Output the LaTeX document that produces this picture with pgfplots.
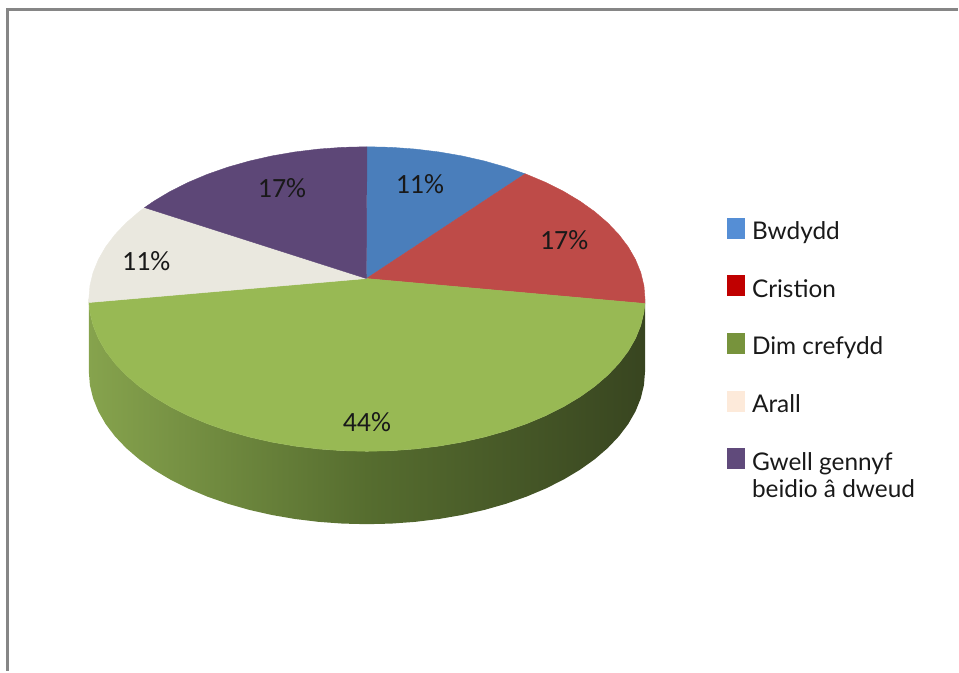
\documentclass[border=0pt]{standalone}
\usepackage{pgfplots}
\pgfplotsset{compat=1.18}
\usepackage{fontspec}
\setmainfont{Lato}
\newfontfamily\carlito{Carlito}
\definecolor{cBlue}{HTML}{4A7EBB}
\definecolor{cRed}{HTML}{BE4B48}
\definecolor{cGreen}{HTML}{98B954}
\definecolor{cBeige}{HTML}{EAE8DF}
\definecolor{cPurple}{HTML}{5D4777}
\definecolor{sideL}{HTML}{86A34D}
\definecolor{sideM}{HTML}{566D2F}
\definecolor{sideR}{HTML}{384520}
\definecolor{lBlue}{HTML}{558ED5}
\definecolor{lRed}{HTML}{C00000}
\definecolor{lGreen}{HTML}{77933C}
\definecolor{lBeige}{HTML}{FDEADA}
\definecolor{lPurple}{HTML}{604A7B}
\definecolor{frame}{HTML}{868686}
\newcommand\ls{\rule[-8.4bp]{0pt}{28bp}}
\begin{document}
\begin{tikzpicture}
\begin{axis}[
  scale only axis, width=959bp, height=672bp,
  xmin=0, xmax=959, ymin=0, ymax=672,
  hide axis, clip=false,
  legend cell align=left,
  legend image code/.code={\fill[#1, draw=none] (0bp,-8.3bp) rectangle (18bp,12.7bp); \path (25bp,0bp);},
  legend style={at={(axis cs:728,454)}, anchor=north west, draw=none, fill=none,
    inner sep=0pt, outer sep=0pt, row sep=34.5bp,
    font=\fontsize{24.5}{28}\selectfont, text=black!90,
    nodes={inner sep=0pt, outer sep=0pt}},
]
% page extent
\path[draw=none] (axis cs:0,0) rectangle (axis cs:959,672);
% frame
\draw[frame, line width=3bp] (axis cs:8,0) -- (axis cs:8,662) -- (axis cs:959,662);
% side wall
\addplot[draw=none, left color=sideL, right color=sideR, middle color=sideM, forget plot] coordinates {
(646,372.5) (644.94,359.20) (641.77,346.03) (636.50,333.03) (629.21,320.34) (619.90,308.05) (608.68,296.25) (595.65,285.03) (580.83,274.47) (564.43,264.67) (546.52,255.68) (527.25,247.57) (506.75,240.43) (485.19,234.29) (462.75,229.20) (439.58,225.20) (415.85,222.32) (391.79,220.58) (367.5,220) (343.21,220.58) (319.15,222.32) (295.42,225.20) (272.25,229.20) (249.81,234.29) (228.25,240.43) (207.75,247.57) (188.48,255.68) (170.57,264.67) (154.17,274.47) (139.35,285.03) (126.32,296.25) (115.10,308.05) (105.79,320.34) (98.50,333.03) (93.23,346.03) (90.06,359.20) (89,372.5)
(89,299.5) (90.06,286.20) (93.23,273.03) (98.50,260.03) (105.79,247.34) (115.10,235.05) (126.32,223.25) (139.35,212.03) (154.17,201.47) (170.57,191.67) (188.48,182.68) (207.75,174.57) (228.25,167.43) (249.81,161.29) (272.25,156.20) (295.42,152.20) (319.15,149.32) (343.21,147.58) (367.5,147) (391.79,147.58) (415.85,149.32) (439.58,152.20) (462.75,156.20) (485.19,161.29) (506.75,167.43) (527.25,174.57) (546.52,182.68) (564.43,191.67) (580.83,201.47) (595.65,212.03) (608.68,223.25) (619.90,235.05) (629.21,247.34) (636.50,260.03) (641.77,273.03) (644.94,286.20) (646,299.5)
} -- cycle;
% Bwdydd 11%
\addplot[fill=cBlue, draw=cBlue, line width=0.4bp, forget plot] coordinates {
(367,393) (367.5,525) (391.79,524.42) (415.85,522.68) (439.58,519.80) (462.75,515.80) (485.19,510.71) (506.75,504.57) (526.0,497.9)
} -- cycle;
% Cristion 17%
\addplot[fill=cRed, draw=cRed, line width=0.4bp, forget plot] coordinates {
(367,393) (526.0,497.9) (527.25,497.43) (546.52,489.32) (564.43,480.33) (580.83,470.53) (595.65,459.97) (608.68,448.75) (619.90,436.95) (629.21,424.66) (636.50,411.97) (641.77,398.97) (644.94,385.80) (646,372.5) (645.9,368.0)
} -- cycle;
% Dim crefydd 44%
\addplot[fill=cGreen, draw=cGreen, line width=0.4bp, forget plot] coordinates {
(367,393) (645.9,368.0) (644.94,359.20) (641.77,346.03) (636.50,333.03) (629.21,320.34) (619.90,308.05) (608.68,296.25) (595.65,285.03) (580.83,274.47) (564.43,264.67) (546.52,255.68) (527.25,247.57) (506.75,240.43) (485.19,234.29) (462.75,229.20) (439.58,225.20) (415.85,222.32) (391.79,220.58) (367.5,220) (343.21,220.58) (319.15,222.32) (295.42,225.20) (272.25,229.20) (249.81,234.29) (228.25,240.43) (207.75,247.57) (188.48,255.68) (170.57,264.67) (154.17,274.47) (139.35,285.03) (126.32,296.25) (115.10,308.05) (105.79,320.34) (98.50,333.03) (93.23,346.03) (90.06,359.20) (89.1,369.0)
} -- cycle;
% Arall 11%
\addplot[fill=cBeige, draw=cBeige, line width=0.4bp, forget plot] coordinates {
(367,393) (89.1,369.0) (89,372.5) (90.06,385.80) (93.23,398.97) (98.50,411.97) (105.79,424.66) (115.10,436.95) (126.32,448.75) (139.35,459.97) (144.8,464.1)
} -- cycle;
% Gwell gennyf beidio a dweud 17%
\addplot[fill=cPurple, draw=cPurple, line width=0.4bp, forget plot] coordinates {
(367,393) (144.8,464.1) (154.17,470.53) (170.57,480.33) (188.48,489.32) (207.75,497.43) (228.25,504.57) (249.81,510.71) (272.25,515.80) (295.42,519.80) (319.15,522.68) (343.21,524.42) (367.5,525)
} -- cycle;
% labels
\begin{scope}[every node/.style={font=\carlito\fontsize{28}{32}\selectfont, text=black!90, inner sep=0pt}]
\node at (axis cs:420.5,488) {11\%};
\node at (axis cs:565,431) {17\%};
\node at (axis cs:367.5,249.5) {44\%};
\node at (axis cs:146.5,410) {11\%};
\node at (axis cs:282.5,484) {17\%};
\end{scope}
% legend
\addlegendimage{fill=lBlue}
\addlegendentry{\ls Bwdydd}
\addlegendimage{fill=lRed}
\addlegendentry{\ls Cristion}
\addlegendimage{fill=lGreen}
\addlegendentry{\ls Dim crefydd}
\addlegendimage{fill=lBeige}
\addlegendentry{\ls Arall}
\addlegendimage{fill=lPurple}
\addlegendentry{\raisebox{0pt}[19.6bp][8.4bp]{\ls\begin{tabular}[t]{@{}l@{}}Gwell gennyf\\beidio â dweud\end{tabular}}}
\end{axis}
\end{tikzpicture}
\end{document}
